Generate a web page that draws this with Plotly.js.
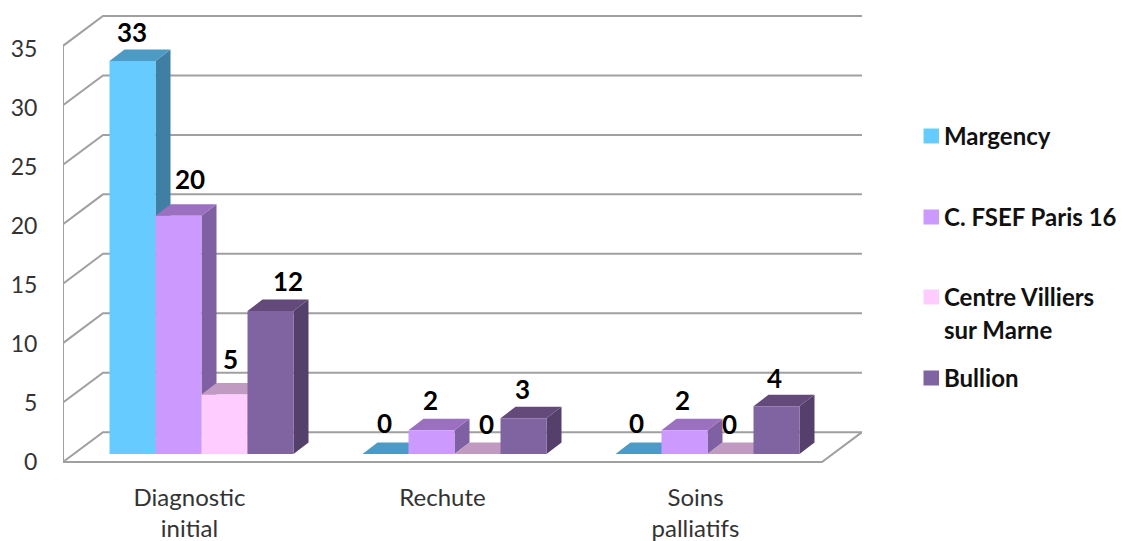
<!DOCTYPE html>
<html>
<head>
<meta charset="utf-8">
<script src="https://cdn.plot.ly/plotly-3.0.1.min.js"></script>
<style>html,body{margin:0;padding:0;background:#fff}#chart{width:1123px;height:541px}</style>
</head>
<body>
<div id="chart"></div>
<script>
// ---- data ----
const categories = ["Diagnostic<br>initial", "Rechute", "Soins<br>palliatifs"];
const yTicks = [0, 5, 10, 15, 20, 25, 30, 35];
const margency = [33, 0, 0];
const fsef = [20, 2, 2];
const villiers = [5, 0, 0];
const bullion = [12, 3, 4];
const seriesNames = ["Margency", "C. FSEF Paris 16", "Centre Villiers<br>sur Marne", "Bullion"];
const seriesValues = [margency, fsef, villiers, bullion];
// ---- styles ----
const frontColors = ["#66CCFF", "#CC99FF", "#FFCCFF", "#8064A2"];
const sideColors = ["#3F7FA3", "#7F60A3", "#A07FA0", "#553F6B"];
const topColors = ["#4D9BC4", "#9B70C0", "#C09AC0", "#634A7A"];
const gridColor = "#A0A0A0";
const FONT = "Lato, Carlito, sans-serif";
// label nudges in px [series][category]
const nudgeX = [[-0.5, -1.5, -2], [11.5, -1.5, -2], [6, 9, -1.5], [17, -1.5, -2.5]];
const nudgeY = [[28.5, 31, 31], [36.5, 30, 30], [35.5, 30, 30], [30.5, 29, 28]];
// legend layout in px
const legendRows = [135, 216, 296, 377];
// ---- geometry ----
const W = 1123, H = 541;
const plot = {l: 63, r: 862, t: 10, b: 463};
const pxPerCat = 253;
const wallPxPerUnit = (463 - 45) / 35;
const tickPxPerUnit = 11.84, tickZero = 464;
const barPxPerUnit = 11.91;
const labelCat0 = 189.5, barCat0 = 201.5, barZero = 454;
const xRange = [(plot.l - labelCat0) / pxPerCat, (plot.r - labelCat0) / pxPerCat];
const x2Range = [(plot.l - barCat0) / pxPerCat, (plot.r - barCat0) / pxPerCat];
const yRange = [(tickZero - plot.b) / tickPxPerUnit * -1, (tickZero - plot.t) / tickPxPerUnit];
const y2Range = [(barZero - plot.b) / barPxPerUnit, (barZero - plot.t) / barPxPerUnit];
const barW = 46 / pxPerCat;
const faceDx = 15 / pxPerCat, faceDy = 11.5 / barPxPerUnit;
const wallDx = 40 / pxPerCat;
// a value on the wall, raised by `lift` px, in the units of the tick axis
const wallY = (v, lift) => (v * wallPxPerUnit + lift) / tickPxPerUnit;

const traces = [];
// walls and gridlines
const catIdx = categories.map((_, i) => i);
const wallL = -0.5, wallR = categories.length - 0.5;
const gx = [], gy = [];
yTicks.forEach(v => {
  gx.push(wallL, wallL + wallDx, wallR + wallDx, null);
  gy.push(wallY(v, 0), wallY(v, 30), wallY(v, 30), null);
});
gx.push(wallL, wallL, null, wallL, wallR, wallR + wallDx);
gy.push(wallY(yTicks[0], 0), wallY(yTicks[yTicks.length - 1], 0), null, wallY(0, 0), wallY(0, 0), wallY(0, 30));
traces.push({type: "scatter", mode: "lines", x: gx, y: gy, xaxis: "x", yaxis: "y",
  line: {color: gridColor, width: 2}, hoverinfo: "skip", showlegend: false, cliponaxis: false});
// side and top faces
seriesValues.forEach((vals, s) => {
  vals.forEach((v, c) => {
    const left = c - 2 * barW + s * barW, right = left + barW;
    traces.push({type: "scatter", mode: "lines", fill: "toself", fillcolor: sideColors[s],
      x: [right, right + faceDx, right + faceDx, right, right],
      y: [0, faceDy, v + faceDy, v, 0], xaxis: "x2", yaxis: "y2",
      line: {width: 0, color: sideColors[s]}, hoverinfo: "skip", showlegend: false});
    traces.push({type: "scatter", mode: "lines", fill: "toself", fillcolor: topColors[s],
      x: [left, left + faceDx, right + faceDx, right, left],
      y: [v, v + faceDy, v + faceDy, v, v], xaxis: "x2", yaxis: "y2",
      line: {width: 0, color: topColors[s]}, hoverinfo: "skip", showlegend: false});
  });
});
// front faces
seriesValues.forEach((vals, s) => {
  traces.push({type: "bar", name: seriesNames[s].replace("<br>", " "), x: catIdx, y: vals,
    xaxis: "x2", yaxis: "y3", marker: {color: frontColors[s], line: {width: 0}}, showlegend: false});
});

// annotations: data labels
const annotations = [];
seriesValues.forEach((vals, s) => {
  vals.forEach((v, c) => {
    annotations.push({xref: "x2", yref: "y3", x: c - 2 * barW + (s + 0.5) * barW, y: v,
      text: String(v), showarrow: false, xanchor: "center", yanchor: "middle",
      xshift: nudgeX[s][c], yshift: nudgeY[s][c],
      font: {family: FONT, size: 26, color: "#000", weight: 700}});
  });
});
// custom legend
const shapes = [];
seriesNames.forEach((name, s) => {
  const yc = legendRows[s];
  shapes.push({type: "rect", xref: "paper", yref: "paper", layer: "above",
    x0: (923.5 - plot.l) / (plot.r - plot.l), x1: (939 - plot.l) / (plot.r - plot.l),
    y0: (plot.b - (yc + 8.5)) / (plot.b - plot.t), y1: (plot.b - (yc - 6.5)) / (plot.b - plot.t),
    fillcolor: frontColors[s], line: {width: 0}});
  name.split("<br>").forEach((ln, i) => {
    annotations.push({xref: "paper", yref: "paper",
      x: (942 - plot.l) / (plot.r - plot.l), y: (plot.b - (yc + i * 33)) / (plot.b - plot.t),
      text: ln, showarrow: false, xanchor: "left", yanchor: "middle",
      font: {family: FONT, size: 24, color: "#111", weight: 700}});
  });
});

const layout = {
  width: W, height: H, autosize: false,
  margin: {l: plot.l, r: W - plot.r, t: plot.t, b: H - plot.b, pad: 0},
  paper_bgcolor: "#fff", plot_bgcolor: "rgba(0,0,0,0)",
  showlegend: false, barmode: "group", bargap: 1 - 4 * barW, bargroupgap: 0,
  xaxis: {range: xRange, tickmode: "array", tickvals: catIdx, ticktext: categories,
    tickfont: {family: FONT, size: 24, color: "#333"}, showgrid: false, zeroline: false,
    showline: false, ticks: "outside", ticklen: 13, tickcolor: "rgba(0,0,0,0)", tickangle: 0},
  yaxis: {range: yRange, tickmode: "array", tickvals: yTicks, showgrid: false, zeroline: false,
    showline: false, ticks: "outside", ticklen: 20, tickcolor: "rgba(0,0,0,0)",
    tickfont: {family: FONT, size: 23, color: "#333"}},
  xaxis2: {range: x2Range, overlaying: "x", visible: false, anchor: "y2"},
  yaxis2: {range: y2Range, overlaying: "y", visible: false, anchor: "x2"},
  yaxis3: {range: y2Range, overlaying: "y", visible: false, anchor: "x2"},
  annotations, shapes
};
Plotly.newPlot("chart", traces, layout, {displayModeBar: false, staticPlot: true});
</script>
</body>
</html>
